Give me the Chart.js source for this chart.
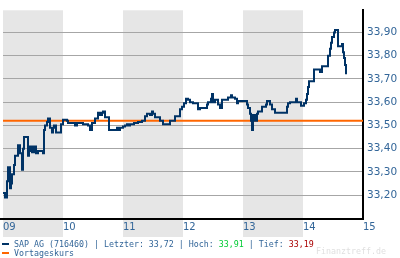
<!DOCTYPE html>
<html>
<head>
<meta charset="utf-8">
<script src="https://cdn.jsdelivr.net/npm/chart.js@4/dist/chart.umd.min.js"></script>
<style>
  html, body { margin: 0; padding: 0; background: #fff; }
  #wrap { position: relative; width: 400px; height: 258px; overflow: hidden; }
  #chart { position: absolute; left: 0; top: 0; }
  .legend { position: absolute; left: 0; font-family: "DejaVu Sans Mono", monospace; font-size: 8.3px; line-height: 9px; color: #336699; white-space: pre; }
  .legend .mark { position: absolute; left: 2px; top: 3px; width: 7px; height: 2px; }
  .legend .txt { position: absolute; left: 14px; top: 0; }
  .up { color: #00cc33; }
  .down { color: #aa0000; }
  #brand { position: absolute; left: 316px; top: 247px; font-family: "DejaVu Sans Mono", monospace; font-size: 8.3px; line-height: 9px; color: #e0e0e0; }
</style>
</head>
<body>
<div id="wrap">
  <canvas id="chart" width="400" height="258"></canvas>
  <div class="legend" style="top:240px"><div class="mark" style="background:#003366"></div><div class="txt" id="leg1"></div></div>
  <div class="legend" style="top:249px"><div class="mark" style="background:#ff6600"></div><div class="txt" id="leg2"></div></div>
  <div id="brand">Finanztreff.de</div>
</div>
<script>
// minutes since 09:00 and price at that moment (stepped)
const timeMinutes = [
  0, 2, 4, 5, 7, 8, 9, 11, 12, 14, 15, 17, 19, 20, 21, 24, 25, 26, 27, 29,
  31, 33, 35, 40, 41, 42, 44, 45, 47, 49, 50, 51, 53, 58, 60, 64, 65, 72, 74, 80,
  85, 87, 89, 92, 95, 97, 99, 100, 102, 106, 114, 115, 117, 120, 122, 124, 125, 127, 131, 135,
  139, 142, 144, 147, 149, 150, 152, 157, 160, 167, 172, 177, 179, 181, 183, 185, 187, 190, 195, 197,
  202, 204, 205, 208, 209, 210, 212, 215, 217, 219, 225, 228, 229, 232, 234, 235, 244, 245, 247, 248,
  249, 250, 252, 254, 255, 259, 263, 264, 267, 269, 272, 284, 285, 287, 293, 294, 298, 301, 303, 304,
  305, 306, 311, 317, 319, 325, 327, 328, 329, 331, 332, 335, 339, 340, 341, 342, 343
];
const prices = [
  33.21, 33.19, 33.26, 33.32, 33.23, 33.25, 33.29, 33.33, 33.37, 33.37, 33.415, 33.38, 33.31, 33.40, 33.45, 33.45, 33.37, 33.39, 33.41, 33.385,
  33.41, 33.38, 33.39, 33.38, 33.48, 33.50, 33.515, 33.53, 33.49, 33.47, 33.49, 33.50, 33.47, 33.505, 33.525, 33.52, 33.51, 33.50, 33.51, 33.505,
  33.50, 33.48, 33.51, 33.53, 33.555, 33.545, 33.555, 33.56, 33.535, 33.48, 33.49, 33.48, 33.49, 33.495, 33.50, 33.505, 33.50, 33.505, 33.51, 33.515,
  33.52, 33.54, 33.55, 33.545, 33.56, 33.55, 33.535, 33.52, 33.505, 33.52, 33.54, 33.57, 33.58, 33.595, 33.615, 33.61, 33.60, 33.595, 33.57, 33.575,
  33.575, 33.59, 33.60, 33.615, 33.635, 33.60, 33.61, 33.59, 33.575, 33.61, 33.62, 33.63, 33.62, 33.615, 33.595, 33.605, 33.59, 33.575, 33.55, 33.52,
  33.48, 33.545, 33.52, 33.55, 33.56, 33.58, 33.59, 33.605, 33.59, 33.57, 33.555, 33.58, 33.595, 33.60, 33.615, 33.60, 33.585, 33.595, 33.61, 33.635,
  33.665, 33.69, 33.74, 33.73, 33.755, 33.80, 33.83, 33.855, 33.88, 33.90, 33.91, 33.84, 33.85, 33.815, 33.79, 33.76, 33.72
];
const prevClose = 33.52;

const hourTicks = [0, 60, 120, 180, 240, 300, 360];
const hourLabels = ['09', '10', '11', '12', '13', '14', '15'];
const shadedHours = [[0, 60], [120, 180], [240, 300]];
const priceTicks = [33.2, 33.3, 33.4, 33.5, 33.6, 33.7, 33.8, 33.9];

const seriesName = 'SAP AG (716460)';
const lastPrice = 33.72;
const highPrice = 33.91;
const lowPrice = 33.19;
const prevCloseName = 'Vortageskurs';

const fmt = v => v.toFixed(2).replace('.', ',');

document.getElementById('leg1').innerHTML =
  `${seriesName} | Letzter: ${fmt(lastPrice)} | Hoch: <span class="up">${fmt(highPrice)}</span> | Tief: <span class="down">${fmt(lowPrice)}</span>`;
document.getElementById('leg2').textContent = prevCloseName;

const blue = '#336699';

// gray background bands for every other hour, reaching under the hour labels
const bands = {
  id: 'bands',
  beforeDraw(chart) {
    const { ctx, chartArea, scales } = chart;
    ctx.save();
    ctx.fillStyle = '#e6e6e6';
    shadedHours.forEach(([a, b]) => {
      const x1 = scales.x.getPixelForValue(a);
      const x2 = scales.x.getPixelForValue(b);
      ctx.fillRect(x1, chartArea.top, x2 - x1, 237 - chartArea.top);
    });
    ctx.restore();
  },
  afterDraw(chart) {
    // axis line runs a bit past the left edge
    const { ctx, chartArea } = chart;
    ctx.save();
    ctx.strokeStyle = '#000';
    ctx.lineWidth = 2;
    ctx.beginPath();
    ctx.moveTo(0, Math.round(chartArea.bottom));
    ctx.lineTo(chartArea.left + 1, Math.round(chartArea.bottom));
    ctx.stroke();
    ctx.restore();
  }
};

new Chart(document.getElementById('chart'), {
  type: 'line',
  data: {
    datasets: [
      {
        label: seriesName,
        data: timeMinutes.map((t, i) => ({ x: t, y: prices[i] })),
        borderColor: '#003366',
        borderWidth: 2,
        stepped: true,
        pointRadius: 0,
        order: 0
      },
      {
        label: prevCloseName,
        data: [{ x: hourTicks[0], y: prevClose }, { x: hourTicks[hourTicks.length - 1], y: prevClose }],
        borderColor: '#ff6600',
        borderWidth: 2,
        pointRadius: 0,
        order: 1
      }
    ]
  },
  options: {
    responsive: false,
    animation: false,
    layout: { padding: { left: 3, top: 4, right: 0, bottom: 0 } },
    plugins: { legend: { display: false }, tooltip: { enabled: false } },
    scales: {
      x: {
        type: 'linear',
        min: hourTicks[0],
        max: hourTicks[hourTicks.length - 1],
        afterBuildTicks: s => { s.ticks = hourTicks.map(v => ({ value: v })); },
        afterFit: s => { s.height = 39.5; },
        grid: { display: false, drawTicks: false },
        border: { display: true, color: '#000', width: 2 },
        ticks: {
          align: 'start',
          maxRotation: 0,
          autoSkip: false,
          padding: 3,
          color: blue,
          font: { family: 'DejaVu Sans', size: 10 },
          callback: v => hourLabels[hourTicks.indexOf(v)]
        }
      },
      y: {
        position: 'right',
        min: 33.1,
        max: 33.995,
        afterBuildTicks: s => { s.ticks = priceTicks.map(v => ({ value: v })); },
        afterFit: s => { s.width = 37; },
        grid: { color: '#a6a6a6', lineWidth: 1, drawTicks: false },
        border: { display: true, color: '#000', width: 2 },
        ticks: {
          padding: 4,
          color: blue,
          font: { family: 'DejaVu Sans', size: 10.5 },
          callback: v => fmt(v)
        }
      }
    }
  },
  plugins: [bands]
});
</script>
</body>
</html>
